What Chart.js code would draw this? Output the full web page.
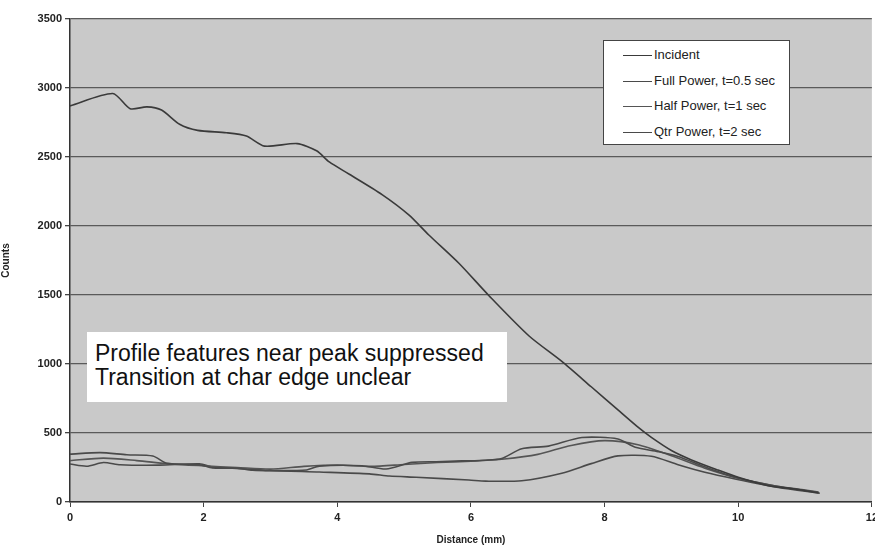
<!DOCTYPE html>
<html>
<head>
<meta charset="utf-8">
<script src="https://cdn.jsdelivr.net/npm/chart.js@4.4.1/dist/chart.umd.min.js"></script>
<style>
  html, body { margin: 0; padding: 0; background: #fff; overflow: hidden; }
  #wrap { position: relative; width: 882px; height: 546px; }
  #note {
    position: absolute; left: 87px; top: 332px; width: 420px; height: 70px;
    background: #fff; font-family: "Liberation Sans", Arial, sans-serif;
    font-size: 23px; line-height: 24px; color: #111; box-sizing: border-box;
    padding: 9px 0 0 8px; white-space: nowrap;
  }
  #legend {
    position: absolute; left: 603px; top: 40px; width: 187px; height: 105px;
    background: #fff; border: 1px solid #444; box-sizing: border-box;
    font-family: "Liberation Sans", Arial, sans-serif; font-size: 13px; color: #222;
  }
  #legend div { position: absolute; left: 19px; height: 14px; line-height: 14px; white-space: nowrap; }
  #legend span { display: inline-block; width: 29px; height: 0; border-top: 1.5px solid #333; vertical-align: middle; margin-right: 2px; }
</style>
</head>
<body>
<div id="wrap">
  <canvas id="chart" width="882" height="546"></canvas>
  <div id="legend"></div>
  <div id="note">Profile features near peak suppressed<br>Transition at char edge unclear</div>
</div>
<script>
// values (distance in mm, counts)
var incidentX = [0, 0.64, 0.9, 1.15, 1.37, 1.64, 1.91, 2.34, 2.64, 2.91, 3.4, 3.69, 3.88, 4.18, 4.67, 5.07, 5.37, 5.82, 6.27, 6.87, 7.36, 7.8, 8.2, 8.5, 8.7, 9.0, 9.3, 9.7, 10.0, 10.45, 10.85, 11.22];
var incidentY = [2870, 2960, 2850, 2863, 2840, 2737, 2693, 2676, 2652, 2579, 2597, 2545, 2464, 2375, 2228, 2081, 1935, 1730, 1495, 1203, 1019, 835, 667, 542, 468, 373, 305, 231, 179, 118, 94, 63];

var fullX = [0, 0.45, 0.85, 1.24, 1.45, 1.94, 2.13, 2.5, 2.73, 3.09, 3.54, 3.73, 4.37, 4.73, 5.12, 5.48, 5.87, 6.22, 6.46, 6.76, 7.16, 7.66, 8.2, 8.46, 8.8, 9.1, 9.5, 9.97, 10.6, 11.2];
var fullY = [347, 358, 342, 333, 280, 270, 247, 245, 230, 227, 232, 260, 263, 239, 287, 292, 298, 303, 315, 386, 405, 467, 457, 397, 365, 330, 255, 178, 112, 70];

var halfX = [0, 0.5, 1.0, 1.5, 2.0, 2.5, 3.0, 3.5, 4.0, 4.5, 5.0, 5.5, 6.0, 6.5, 7.0, 7.5, 8.0, 8.5, 9.0, 9.5, 10.0, 10.5, 11.0, 11.2];
var halfY = [300, 318, 300, 276, 262, 250, 238, 258, 268, 258, 272, 286, 296, 312, 345, 410, 445, 415, 335, 245, 172, 122, 86, 72];

var qtrX = [0, 0.25, 0.5, 0.75, 1.34, 1.94, 2.13, 2.43, 2.99, 3.73, 4.48, 4.78, 5.18, 5.97, 6.22, 6.76, 7.36, 7.8, 8.2, 8.7, 9.1, 9.5, 9.97, 10.6, 11.2];
var qtrY = [275, 259, 286, 270, 267, 277, 254, 245, 228, 217, 204, 188, 179, 159, 151, 154, 209, 278, 334, 331, 270, 215, 165, 105, 65];

var seriesNames = ['Incident', 'Full Power, t=0.5 sec', 'Half Power, t=1 sec', 'Qtr Power, t=2 sec'];
var yTicks = [0, 500, 1000, 1500, 2000, 2500, 3000, 3500];
var xTicks = [0, 2, 4, 6, 8, 10, 12];

function pts(xs, ys) {
  return xs.map(function(x, i) { return { x: x, y: ys[i] }; });
}

var lineColors = ['#3a3a3a', '#4a4a4a', '#555555', '#4a4a4a'];
var allData = [pts(incidentX, incidentY), pts(fullX, fullY), pts(halfX, halfY), pts(qtrX, qtrY)];

// legend drawn as html box sitting inside the plot
var lg = document.getElementById('legend');
seriesNames.forEach(function(n, i) {
  var d = document.createElement('div');
  d.style.top = (7 + i * 25.5) + 'px';
  d.innerHTML = '<span style="border-color:' + lineColors[i] + '"></span>' + n;
  lg.appendChild(d);
});

var plotBg = {
  id: 'plotBg',
  beforeDraw: function(chart) {
    var a = chart.chartArea, c = chart.ctx;
    c.save();
    c.fillStyle = '#c9c9c9';
    c.fillRect(a.left, a.top, a.right - a.left, a.bottom - a.top);
    c.restore();
  }
};

var font = { family: '"Liberation Sans", Arial, sans-serif', size: 11, weight: 'bold' };
var plain = function(v) { return String(v); };

new Chart(document.getElementById('chart').getContext('2d'), {
  type: 'line',
  data: {
    datasets: allData.map(function(d, i) {
      return {
        label: seriesNames[i],
        data: d,
        borderColor: lineColors[i],
        borderWidth: 1.6,
        pointRadius: 0,
        tension: 0.25,
        fill: false
      };
    })
  },
  options: {
    responsive: false,
    animation: false,
    layout: { padding: { top: 19, right: 0, left: 0, bottom: 0 } },
    plugins: { legend: { display: false }, tooltip: { enabled: false } },
    scales: {
      x: {
        type: 'linear', min: 0, max: 12,
        afterFit: function(s) { s.height = 44; },
        afterBuildTicks: function(s) { s.ticks = xTicks.map(function(v) { return { value: v }; }); },
        grid: { drawOnChartArea: false, drawTicks: true, tickLength: 5, color: '#444' },
        border: { display: true, color: '#333', width: 1.5 },
        ticks: { color: '#222', font: font, padding: 4, maxRotation: 0, callback: plain },
        title: { display: true, text: 'Distance (mm)', color: '#222', font: { family: font.family, size: 10, weight: 'bold' }, padding: { top: 1, bottom: 0 } }
      },
      y: {
        min: 0, max: 3500,
        afterFit: function(s) { s.width = 70; },
        afterBuildTicks: function(s) { s.ticks = yTicks.map(function(v) { return { value: v }; }); },
        grid: { color: '#5a5a5a', lineWidth: 1.3, tickLength: 5, tickColor: '#444' },
        border: { display: true, color: '#333', width: 1.5 },
        ticks: { color: '#222', font: font, padding: 3, callback: plain },
        title: { display: true, text: 'Counts', color: '#222', font: { family: font.family, size: 10, weight: 'bold' }, padding: { top: 0, bottom: 4 } }
      }
    }
  },
  plugins: [plotBg]
});
</script>
</body>
</html>
